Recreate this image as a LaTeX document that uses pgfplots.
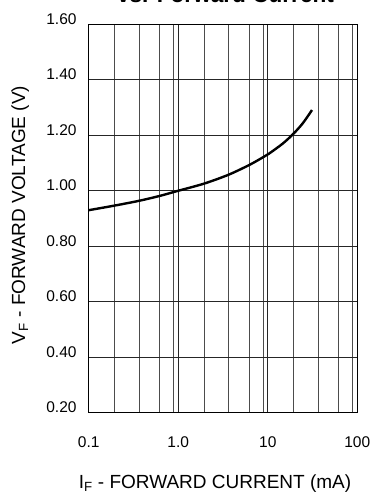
\documentclass[border=0pt]{standalone}
\usepackage{fontspec}
\setmainfont{Liberation Sans}
\usepackage{pgfplots}
\pgfplotsset{compat=1.18}
\begin{document}
\begin{tikzpicture}
\begin{axis}[
  at={(88.7pt,-412.7pt)}, anchor=south west,
  scale only axis, width=268.6pt, height=388.4pt,
  xmode=log, log basis x=10,
  xmin=0.1, xmax=100, ymin=0.2, ymax=1.6,
  xtick={0.1,1,10,100}, xticklabels={0.1,1.0,10,100},
  minor xtick={0.1945,0.366,0.622,0.889,1.945,3.66,6.22,8.89,19.45,36.6,62.2,88.9},
  ytick={0.2,0.4,0.6,0.8,1.0,1.2,1.4,1.6},
  yticklabels={0.20,0.40,0.60,0.80,1.00,1.20,1.40,1.60},
  grid=both,
  major grid style={black!85, line width=0.9pt},
  minor grid style={black!70, line width=0.9pt},
  major tick length=0pt, minor tick length=0pt,
  axis line style={black, line width=1.2pt},
  ticklabel style={font=\fontsize{15.5}{18}\selectfont, inner sep=0pt},
  xticklabel style={anchor=base, yshift=-34.6pt},
  yticklabel style={anchor=base east, xshift=-12pt},
]
\addplot[black, line width=2.4pt, smooth, tension=0.5] coordinates {
  (0.1,0.930) (0.198,0.947) (0.3675,0.964) (0.615,0.981) (0.881,0.995)
  (1.0,1.000) (1.955,1.026) (3.662,1.058) (6.22,1.093) (8.78,1.120)
  (10.24,1.133) (14.69,1.170) (19.29,1.205) (24.57,1.243) (31.2,1.291)
};
\end{axis}
\node[font=\bfseries\fontsize{22.6}{26}\selectfont, anchor=base] at (225.5pt,-2.6pt) {vs. Forward Current};
\node[font=\fontsize{19}{22}\selectfont, anchor=base] at (215pt,-488.5pt) {I\textsubscript{F} - FORWARD CURRENT (mA)};
\node[font=\fontsize{19}{22}\selectfont, rotate=90, anchor=base] at (25pt,-215pt) {V\textsubscript{F} - FORWARD VOLTAGE (V)};
\pgfresetboundingbox
\path[use as bounding box] (0,0) rectangle (374pt,-493pt);
\end{tikzpicture}
\end{document}
